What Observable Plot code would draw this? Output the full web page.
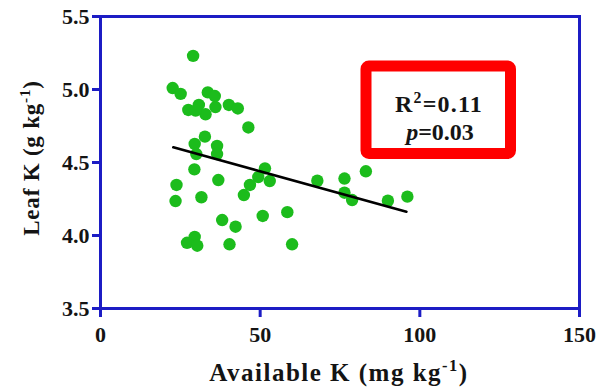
<!DOCTYPE html>
<html><head><meta charset="utf-8">
<script src="https://cdn.jsdelivr.net/npm/d3@7"></script>
<script src="https://cdn.jsdelivr.net/npm/@observablehq/plot@0.6"></script>
<style>body{margin:0;background:#fff} svg{display:block}</style>
</head><body><div id="chart"></div>
<script>
const availableK = [29.0,22.6,25.1,33.6,35.8,27.5,30.8,32.9,29.8,36.0,40.2,43.0,46.3,32.7,29.5,36.5,30.0,36.5,29.4,36.9,23.8,23.5,31.6,51.5,49.4,53.0,46.8,44.9,50.8,38.1,42.3,29.5,27.1,30.3,40.4,58.5,60.0,67.9,76.4,83.1,76.4,78.8,90.0,96.1];
const leafK = [5.23,5.01,4.97,4.98,4.955,4.86,4.894,4.83,4.855,4.88,4.894,4.87,4.74,4.677,4.627,4.613,4.558,4.558,4.453,4.38,4.346,4.236,4.262,4.46,4.40,4.373,4.346,4.277,4.134,4.106,4.06,3.99,3.95,3.93,3.94,4.16,3.94,4.375,4.39,4.44,4.293,4.243,4.238,4.266];
const fitX = [22.8, 95.8];
const fitY = [4.604, 4.163];
const xTicks = [0, 50, 100, 150];
const yTicks = [3.5, 4.0, 4.5, 5.0, 5.5];
const xTitle = ["Available K (mg kg", "-1", ")"];
const yTitle = ["Leaf K (g kg", "-1", ")"];
const statR2 = ["R", "2", "=0.11"];
const statP = ["p", "=0.03"];

const points = availableK.map((x, i) => ({x, y: leafK[i]}));
const fit = fitX.map((x, i) => ({x, y: fitY[i]}));
const blue = "#1c1cc4";
const green = "#1cbc1c";
const ink = "#141414";
const font = "Liberation Serif";

const plot = Plot.plot({
  width: 607, height: 390,
  marginLeft: 100, marginRight: 28, marginTop: 16, marginBottom: 82,
  style: {fontFamily: font, fontWeight: "bold", fontSize: "22px", color: ink, background: "#fff"},
  x: {domain: [0, 150]},
  y: {domain: [3.5, 5.5]},
  marks: [
    Plot.dot(points, {x: "x", y: "y", r: 6.2, fill: green, stroke: "none"}),
    Plot.line(fit, {x: "x", y: "y", stroke: "#000", strokeWidth: 2.6}),
    Plot.frame({stroke: blue, strokeWidth: 3}),
    Plot.axisX({ticks: xTicks, tickSize: 9, tickPadding: 9, stroke: blue, strokeWidth: 3, fill: ink, label: null, tickFormat: d3.format("d")}),
    Plot.axisY({ticks: yTicks, tickSize: 8, tickPadding: 3, stroke: blue, strokeWidth: 3, fill: ink, label: null, tickFormat: d3.format(".1f")})
  ]
});
document.getElementById("chart").appendChild(plot);

const svg = d3.select(plot);
function supText(g, parts, supIdx, size, italicIdx, shift) {
  parts.forEach((p, i) => {
    const t = g.append("tspan").text(p);
    if (i === supIdx) t.attr("dy", -shift).attr("font-size", size * 0.66);
    if (supIdx >= 0 && i === supIdx + 1) t.attr("dy", shift);
    if (i === italicIdx) t.attr("font-style", "italic");
  });
}
function addText(x, y, size, spacing, transform) {
  const t = svg.append("text").attr("text-anchor", "middle")
    .attr("font-family", font).attr("font-weight", "bold").attr("font-size", size)
    .attr("fill", ink).attr("letter-spacing", spacing + "px");
  if (transform) t.attr("transform", transform); else t.attr("x", x).attr("y", y);
  return t;
}
// axis titles
supText(addText(339, 381, 25, 1.5), xTitle, 1, 25, -1, 10);
supText(addText(0, 0, 23, 0.8, "translate(39,158) rotate(-90)"), yTitle, 1, 23, -1, 9);

// stats box
svg.append("rect").attr("x", 366).attr("y", 66).attr("width", 144.5).attr("height", 87.5)
  .attr("rx", 3).attr("fill", "#fff").attr("stroke", "#ff0000").attr("stroke-width", 11);
supText(addText(439, 112, 24, 1.2), statR2, 1, 24, -1, 9);
supText(addText(440, 140, 24, 0), statP, -1, 24, 0, 0);
</script>
</body></html>
